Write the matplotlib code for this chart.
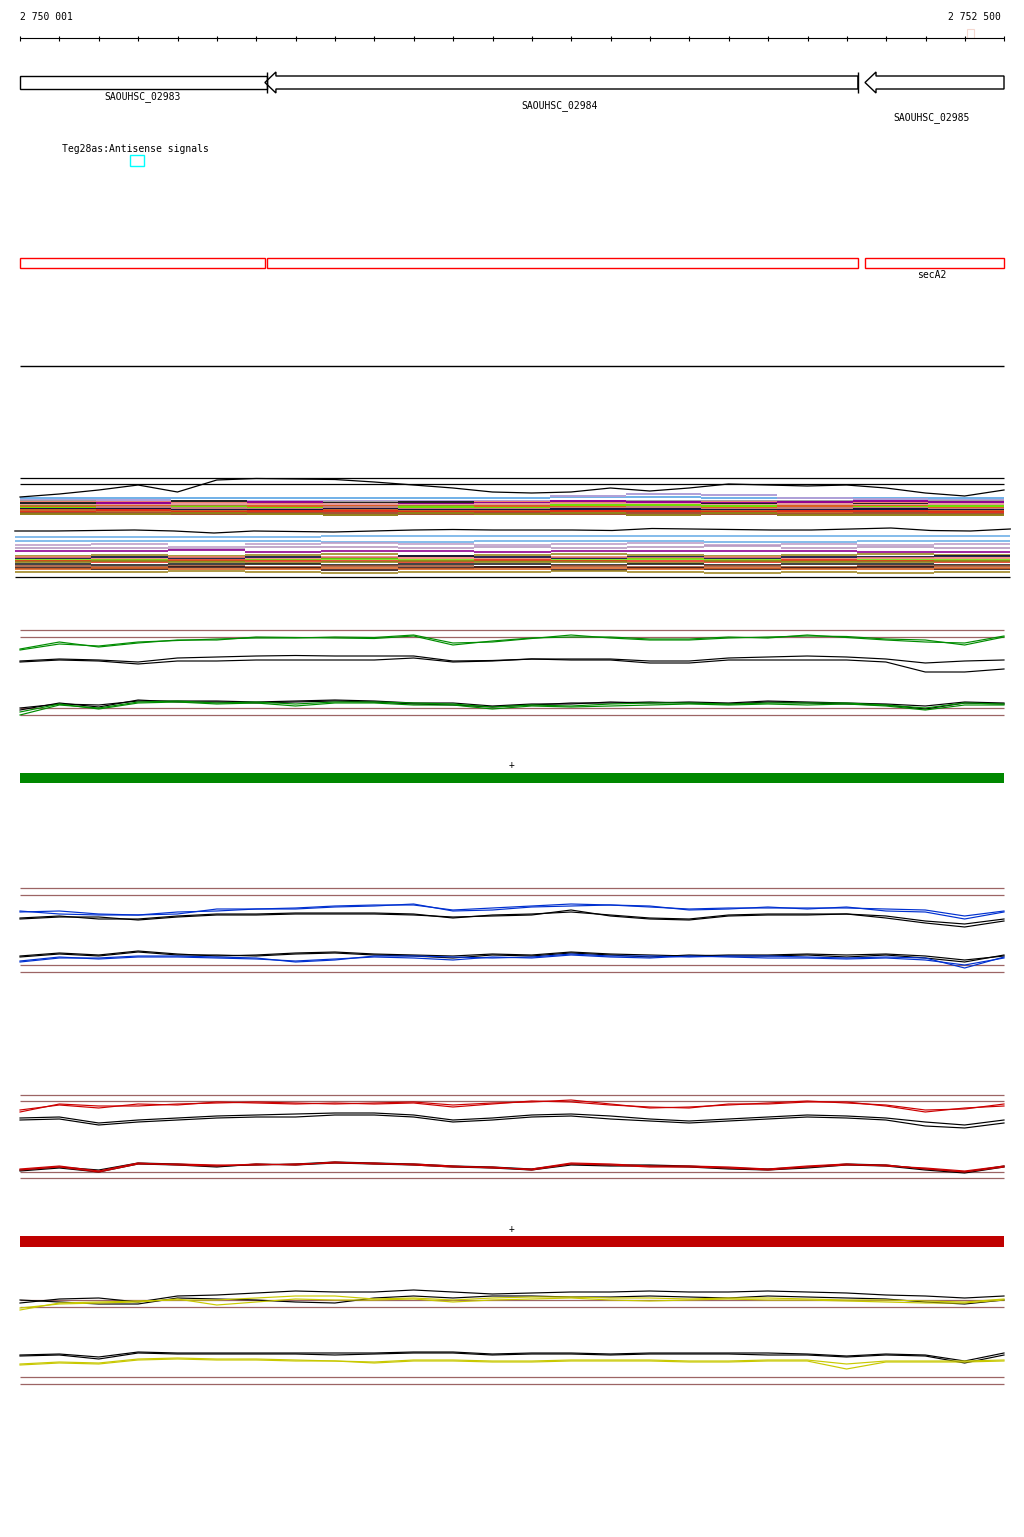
import numpy as np
import matplotlib.pyplot as plt
from matplotlib.patches import Polygon, Rectangle

plt.rcParams['font.family'] = ['DejaVu Sans Mono']

# view window (genome coordinates)
VIEW_START = 2750001
VIEW_END = 2752500
W, H = 1024, 1537
BP_PX = (VIEW_END - VIEW_START) / 984.0
XLIM = (VIEW_START - 20 * BP_PX, VIEW_END + 20 * BP_PX)

# genes: name, start, end, strand
genes = [("SAOUHSC_02983", 2749900, 2750628, "-"),
         ("SAOUHSC_02984", 2750623, 2752129, "-"),
         ("SAOUHSC_02985", 2752147, 2752700, "-")]
gene_label_pos = [2750313, 2751372, 2752317]
cds_boxes = [(2750001, 2750623), (2750628, 2752129), (2752147, 2752500)]
cds_label = "secA2"
antisense_name = "Teg28as:Antisense signals"
antisense_region = (2750280, 2750316)

# signal sample grid: every 100 bp
n_grid = 26

# --- multi-colour expression bands (levels per 200 bp bin) ---
band1_black = [17.6, 18.2, 19.0, 20.0, 18.6, 21.0, 21.3, 21.2, 21.1, 20.6, 20.0, 19.4, 18.6,
               18.4, 18.6, 19.4, 18.8, 19.4, 20.2, 20.0, 19.8, 20.0, 19.4, 18.4, 17.8, 19.0]
band1_lines = [
    ("#70b0e8", [17.4, 17.4, 17.4, 17.4, 17.4, 17.4, 17.4, 17.6, 17.6, 17.4, 17.4, 17.4, 17.4]),
    ("#b0a0d8", [17.0, 17.0, 16.8, 16.8, 16.8, 16.8, 16.8, 17.8, 18.2, 18.0, 17.4, 17.2, 17.0]),
    ("#a0a0a0", [16.8, 16.6, 16.6, 16.4, 16.6, 16.4, 16.6, 16.6, 16.8, 16.8, 16.8, 16.6, 16.8]),
    ("#f08070", [16.6, 16.6, 16.4, 16.2, 16.4, 16.6, 16.6, 16.4, 16.6, 16.6, 16.4, 16.6, 16.4]),
    ("#900090", [16.2, 16.4, 16.2, 16.6, 16.0, 16.2, 16.4, 16.8, 16.6, 16.4, 16.6, 16.8, 16.6]),
    ("#202020", [16.4, 16.0, 16.8, 15.8, 16.4, 16.6, 16.0, 16.2, 15.8, 16.2, 16.0, 16.2, 16.0]),
    ("#e8a0a0", [16.0, 16.0, 16.2, 16.0, 16.2, 16.0, 16.2, 16.2, 16.2, 16.0, 16.2, 16.0, 16.2]),
    ("#9a8a20", [15.8, 15.6, 15.8, 15.6, 15.4, 15.8, 15.6, 15.6, 15.4, 15.4, 15.6, 15.2, 15.4]),
    ("#e06020", [15.6, 15.8, 15.4, 15.8, 15.8, 15.4, 15.8, 15.8, 15.8, 15.6, 15.8, 15.8, 15.6]),
    ("#70e000", [15.4, 15.4, 15.6, 15.4, 15.6, 15.6, 15.4, 16.0, 16.0, 15.8, 15.4, 15.6, 15.8]),
    ("#c08080", [15.2, 15.6, 15.4, 15.2, 15.6, 15.2, 15.2, 15.4, 15.6, 15.2, 15.4, 15.4, 15.2]),
    ("#101040", [15.2, 15.2, 15.0, 15.0, 15.2, 15.0, 15.0, 15.2, 15.2, 15.0, 15.0, 15.2, 15.0]),
    ("#c86428", [15.0, 14.8, 14.8, 14.6, 15.0, 14.8, 14.8, 14.8, 14.6, 14.8, 14.6, 14.6, 14.8]),
    ("#e03018", [14.6, 15.0, 14.6, 14.8, 14.8, 14.6, 14.6, 14.8, 14.8, 14.6, 14.8, 14.8, 14.6]),
    ("#a05030", [14.4, 14.4, 14.2, 14.4, 14.4, 14.2, 14.4, 14.2, 14.4, 14.2, 14.2, 14.4, 14.2]),
    ("#908018", [14.2, 14.2, 14.4, 14.2, 14.0, 14.4, 14.2, 14.4, 14.0, 14.4, 14.0, 14.0, 14.0]),
]
band1_flat = [21.4, 20.2]

band2_black = [10.8, 10.8, 10.9, 11.0, 10.8, 10.4, 10.8, 10.7, 10.6, 10.8, 11.0, 11.1, 11.0,
               11.0, 11.0, 10.9, 11.3, 11.2, 11.1, 11.0, 11.0, 11.2, 11.4, 10.9, 10.8, 11.2]
band2_lines = [
    ("#70b0e8", [9.6, 9.6, 9.6, 9.6, 9.8, 9.8, 9.8, 9.8, 9.8, 9.8, 9.8, 9.8, 9.8]),
    ("#70b0e8", [8.8, 8.8, 8.8, 8.8, 8.6, 8.6, 8.8, 8.8, 8.8, 8.6, 8.6, 8.8, 8.8]),
    ("#c0a0c8", [8.0, 8.2, 7.6, 8.2, 8.4, 8.2, 8.0, 8.2, 8.4, 8.0, 8.2, 8.0, 8.2]),
    ("#b898c0", [7.4, 7.4, 7.2, 7.6, 7.6, 7.4, 7.6, 7.4, 7.6, 7.8, 7.4, 7.6, 7.4]),
    ("#900090", [6.8, 6.8, 7.0, 6.6, 6.8, 6.8, 6.6, 6.8, 6.8, 6.8, 6.8, 6.6, 6.6]),
    ("#9a8a20", [5.8, 6.0, 5.8, 6.0, 6.2, 5.8, 6.0, 6.2, 6.0, 5.8, 6.0, 6.2, 6.0]),
    ("#000030", [5.4, 5.6, 5.4, 5.6, 5.4, 5.8, 5.6, 5.4, 5.6, 5.4, 5.6, 5.6, 5.8]),
    ("#f08070", [5.6, 5.2, 5.6, 5.2, 5.6, 5.4, 5.2, 5.6, 5.4, 5.6, 5.2, 5.4, 5.4]),
    ("#70e000", [5.0, 5.0, 4.8, 5.0, 5.2, 5.0, 4.8, 5.0, 5.2, 5.0, 4.8, 5.0, 5.0]),
    ("#e03018", [4.8, 4.6, 5.0, 4.8, 4.8, 4.6, 5.0, 4.8, 4.8, 4.6, 5.0, 4.8, 4.6]),
    ("#908018", [4.6, 4.8, 4.6, 4.4, 4.6, 4.8, 4.6, 4.6, 4.4, 4.8, 4.6, 4.6, 4.8]),
    ("#202020", [4.2, 4.0, 4.2, 4.2, 4.0, 4.2, 4.2, 4.0, 4.2, 4.0, 4.2, 4.2, 4.0]),
    ("#a05030", [3.8, 3.6, 3.8, 3.6, 3.8, 3.8, 3.6, 3.8, 3.6, 3.8, 3.6, 3.8, 3.8]),
    ("#301010", [3.4, 3.2, 3.6, 3.4, 3.0, 3.4, 3.6, 3.0, 3.4, 3.2, 3.4, 3.6, 3.2]),
    ("#d86020", [3.2, 3.4, 3.2, 3.2, 3.4, 3.2, 3.2, 3.4, 3.2, 3.4, 3.2, 3.2, 3.4]),
    ("#a08828", [2.6, 2.6, 2.8, 2.6, 2.4, 2.6, 2.6, 2.8, 2.6, 2.4, 2.6, 2.4, 2.6]),
]
band2_flat = [1.6]
band2_span = (2749988, 2752516)

# --- strand-specific tiling tracks ---
green_thr = [18.0, 16.6, 2.4, 1.0]
green_up = [[14.0, 15.2, 14.8, 15.6, 15.9, 16.2, 16.4, 16.4, 16.6, 16.5, 17.0, 15.4, 15.6,
             16.3, 17.0, 16.4, 16.0, 16.0, 16.4, 16.6, 16.8, 16.7, 16.2, 16.0, 15.0, 16.6],
            [14.2, 15.6, 14.6, 15.4, 16.0, 16.0, 16.6, 16.5, 16.4, 16.3, 16.8, 15.0, 15.8,
             16.4, 16.6, 16.6, 16.2, 16.2, 16.6, 16.4, 17.0, 16.5, 16.0, 15.6, 15.4, 16.8]]
green_up_k = [[11.8, 12.2, 12.0, 11.6, 12.4, 12.6, 12.8, 12.9, 12.8, 12.8, 12.8, 11.8, 11.9,
               12.2, 12.2, 12.2, 11.8, 11.8, 12.4, 12.6, 12.8, 12.6, 12.2, 11.4, 11.8, 12.0],
              [11.6, 12.0, 11.8, 11.2, 11.8, 11.8, 12.0, 12.0, 12.0, 12.0, 12.4, 11.6, 11.8,
               12.2, 12.0, 12.0, 11.4, 11.4, 12.0, 12.0, 12.0, 12.0, 11.6, 9.6, 9.6, 10.2]]
green_lo_k = [[2.4, 3.2, 3.0, 3.8, 3.8, 3.8, 3.6, 3.8, 4.0, 3.8, 3.4, 3.4, 2.8,
               3.2, 3.2, 3.6, 3.4, 3.6, 3.4, 3.8, 3.6, 3.4, 3.2, 2.8, 3.6, 3.4],
              [2.0, 3.4, 2.6, 4.0, 3.6, 3.6, 3.4, 3.6, 3.8, 3.6, 3.2, 3.0, 2.6,
               3.0, 3.4, 3.4, 3.6, 3.4, 3.2, 3.6, 3.4, 3.2, 3.0, 2.2, 3.4, 3.2]]
green_lo = [[1.0, 3.0, 2.4, 3.6, 3.8, 3.4, 3.6, 3.2, 3.6, 3.6, 3.4, 3.2, 2.6,
             3.0, 2.8, 3.2, 3.4, 3.4, 3.2, 3.4, 3.4, 3.4, 3.0, 2.4, 3.4, 3.2],
            [1.6, 3.2, 2.2, 3.4, 3.6, 3.2, 3.4, 2.8, 3.4, 3.4, 3.0, 3.0, 2.2,
             2.8, 2.6, 2.8, 3.0, 3.2, 3.0, 3.2, 3.0, 3.2, 2.8, 2.0, 3.0, 3.0]]

blue_thr = [18.4, 17.0, 3.0, 1.6]
blue_up = [[13.6, 13.8, 13.2, 13.0, 13.2, 14.2, 14.2, 14.4, 14.8, 15.0, 15.0, 14.0, 14.4,
            14.8, 15.2, 15.0, 14.6, 14.2, 14.4, 14.4, 14.4, 14.4, 14.2, 14.0, 12.8, 13.8],
           [13.8, 13.2, 13.0, 13.0, 13.6, 13.8, 14.2, 14.2, 14.6, 14.8, 15.2, 13.8, 14.0,
            14.6, 14.8, 15.0, 14.8, 14.0, 14.2, 14.6, 14.2, 14.6, 13.8, 13.6, 12.2, 13.6]]
blue_up_k = [[12.4, 12.8, 12.2, 12.2, 12.8, 13.2, 13.2, 13.4, 13.4, 13.4, 13.2, 12.4, 13.0,
              13.2, 13.6, 13.0, 12.4, 12.2, 13.0, 13.2, 13.2, 13.2, 12.8, 11.8, 11.2, 12.2],
             [12.2, 12.6, 12.6, 12.0, 12.6, 13.0, 13.0, 13.2, 13.2, 13.2, 13.0, 12.6, 12.8,
              13.0, 14.0, 12.8, 12.2, 12.0, 12.8, 13.0, 13.0, 13.2, 12.4, 11.4, 10.6, 11.8]]
blue_lo_k = [[4.8, 5.4, 5.0, 5.8, 5.2, 4.8, 5.0, 5.4, 5.6, 5.2, 5.0, 4.8, 5.2,
              5.0, 5.6, 5.2, 5.0, 4.8, 5.0, 5.0, 5.2, 5.0, 5.2, 4.8, 4.0, 4.8],
             [4.6, 5.2, 4.8, 5.6, 5.0, 5.0, 4.8, 5.2, 5.4, 5.0, 4.8, 4.4, 5.0,
              4.8, 5.4, 5.0, 4.6, 5.0, 4.8, 4.8, 5.0, 4.6, 5.0, 4.4, 3.6, 5.0]]
blue_lo = [[3.6, 4.4, 4.4, 4.8, 4.8, 4.6, 4.4, 3.6, 4.0, 4.8, 4.8, 4.6, 4.4,
            4.6, 5.2, 4.8, 4.8, 4.6, 4.8, 4.8, 4.6, 4.4, 4.6, 4.4, 2.4, 4.6],
           [3.8, 4.6, 4.2, 4.6, 4.6, 4.4, 4.2, 3.8, 4.2, 4.6, 4.4, 4.0, 4.6,
            4.4, 5.0, 4.6, 4.4, 4.8, 4.6, 4.4, 4.4, 4.2, 4.4, 4.0, 3.0, 4.4]]

red_thr = [18.0, 16.8, 2.6, 1.4]
red_up = [[14.6, 16.2, 15.8, 15.8, 16.2, 16.4, 16.6, 16.4, 16.2, 16.4, 16.6, 16.0, 16.4,
           16.6, 17.0, 16.2, 15.4, 15.6, 16.0, 16.4, 16.8, 16.4, 16.0, 15.0, 15.2, 16.2],
          [15.0, 16.0, 15.4, 16.2, 16.0, 16.6, 16.4, 16.2, 16.4, 16.2, 16.4, 15.6, 16.2,
           16.8, 16.6, 16.0, 15.6, 15.4, 16.2, 16.2, 16.6, 16.6, 15.8, 14.6, 15.4, 15.8]]
red_up_k = [[13.4, 13.6, 12.4, 13.0, 13.4, 13.8, 14.0, 14.2, 14.4, 14.4, 14.0, 13.0, 13.4,
             14.0, 14.2, 13.8, 13.2, 12.8, 13.2, 13.6, 14.0, 13.8, 13.4, 12.6, 12.0, 13.0],
            [13.0, 13.2, 12.0, 12.6, 13.0, 13.4, 13.6, 13.6, 14.0, 14.0, 13.6, 12.6, 13.0,
             13.6, 13.8, 13.2, 12.8, 12.4, 12.8, 13.2, 13.6, 13.4, 13.0, 11.8, 11.4, 12.4]]
red_lo_k = [[3.0, 3.6, 3.0, 4.4, 4.2, 3.8, 4.0, 4.2, 4.6, 4.4, 4.2, 3.8, 3.6,
             3.2, 4.2, 4.0, 4.0, 3.8, 3.4, 3.2, 3.6, 4.2, 4.0, 3.2, 2.6, 3.8],
            [2.8, 3.4, 2.6, 4.2, 4.0, 3.6, 4.2, 4.0, 4.4, 4.2, 4.0, 3.6, 3.4,
             3.0, 4.0, 3.8, 3.8, 3.6, 3.2, 3.0, 3.4, 4.0, 3.8, 3.0, 2.4, 3.6]]
red_lo = [[3.2, 3.8, 2.8, 4.4, 4.0, 3.8, 4.2, 4.0, 4.6, 4.2, 4.2, 3.8, 3.4,
           3.2, 4.4, 4.2, 3.8, 3.8, 3.6, 3.2, 3.8, 4.2, 3.8, 3.4, 2.8, 3.8],
          [3.0, 3.6, 2.6, 4.2, 4.2, 4.0, 4.0, 4.2, 4.4, 4.4, 4.0, 3.6, 3.6,
           3.0, 4.2, 4.0, 3.6, 3.6, 3.4, 3.0, 3.6, 4.0, 4.0, 3.2, 2.6, 3.6]]

yel_thr = [19.0, 17.6, 3.6, 2.2]
yel_up_k = [[18.4, 19.2, 19.4, 18.6, 19.8, 20.0, 20.4, 20.8, 20.6, 20.6, 21.0, 20.6, 20.2,
             20.4, 20.6, 20.6, 20.8, 20.6, 20.6, 20.8, 20.6, 20.4, 20.0, 19.8, 19.4, 19.8],
            [19.0, 18.6, 18.2, 18.2, 19.4, 19.2, 19.0, 18.6, 18.4, 19.4, 19.8, 19.4, 19.8,
             19.8, 19.6, 19.6, 19.8, 19.6, 19.4, 19.8, 19.6, 19.4, 19.2, 18.6, 18.2, 19.0]]
yel_up = [[17.0, 18.4, 18.6, 18.8, 19.0, 19.0, 19.4, 19.8, 19.8, 19.2, 19.4, 19.0, 19.4,
           19.6, 19.6, 19.4, 19.4, 19.2, 19.4, 19.4, 19.2, 19.0, 19.0, 18.8, 18.6, 19.2],
          [17.4, 18.2, 18.4, 18.6, 19.2, 18.0, 18.6, 19.2, 19.0, 19.0, 19.2, 18.6, 19.0,
           19.2, 19.4, 19.0, 18.8, 19.0, 19.2, 19.0, 19.0, 18.8, 18.6, 18.4, 18.4, 19.0]]
yel_lo_k = [[8.0, 8.2, 7.6, 8.6, 8.4, 8.4, 8.4, 8.4, 8.4, 8.4, 8.6, 8.6, 8.2,
             8.4, 8.4, 8.2, 8.4, 8.4, 8.4, 8.4, 8.2, 7.8, 8.2, 8.0, 6.8, 8.4],
            [7.8, 8.0, 7.2, 8.4, 8.2, 8.2, 8.2, 8.2, 8.0, 8.2, 8.4, 8.4, 8.0,
             8.2, 8.2, 8.0, 8.2, 8.2, 8.2, 8.0, 8.0, 7.6, 8.0, 7.8, 6.4, 8.0]]
yel_lo = [[6.2, 6.6, 6.4, 7.2, 7.4, 7.2, 7.2, 7.0, 6.8, 6.6, 7.0, 7.0, 6.8,
           6.8, 7.0, 7.0, 7.0, 6.8, 6.8, 7.0, 7.0, 6.2, 6.8, 6.8, 6.8, 7.0],
          [6.0, 6.4, 6.2, 7.0, 7.2, 7.0, 7.0, 6.8, 6.8, 6.4, 6.8, 6.8, 6.6,
           6.6, 6.8, 6.8, 6.8, 6.6, 6.6, 6.8, 6.8, 5.2, 6.6, 6.6, 6.6, 6.8]]

BROWN = "#9c6464"

fig = plt.figure(figsize=(W / 100, H / 100), dpi=100)
fig.patch.set_facecolor("white")

# layout axes: genome x, y in figure rows
lay = fig.add_axes([0, 0, 1, 1])
lay.set_xlim(XLIM)
lay.set_ylim(H, 0)
lay.axis("off")


def track_axes(top, bottom, ylim):
    ax = fig.add_axes([0, 1 - bottom / H, 1, (bottom - top) / H])
    ax.set_xlim(XLIM)
    ax.set_ylim(ylim)
    ax.axis("off")
    ax.patch.set_alpha(0)
    return ax


# ruler
lay.text(VIEW_START, 22, "2 750 001", fontsize=7, va="bottom", ha="left")
lay.text(VIEW_END - 3 * BP_PX, 22, "2 752 500", fontsize=7, va="bottom", ha="right")
lay.hlines(38, VIEW_START, VIEW_END, color="black", lw=0.8)
ticks = np.arange(VIEW_START, VIEW_END + 2, 100)
lay.vlines(ticks, 35.5, 40.5, color="black", lw=0.8)
lay.add_patch(Rectangle((2752406, 29), 18, 9, fill=False, ec="#f4d8d0", lw=0.8))

# genes
head = 11 * BP_PX
for name, s, e, strand in genes:
    s0, e0 = max(s, VIEW_START), min(e, VIEW_END)
    if s < VIEW_START:
        lay.add_patch(Rectangle((s0, 76), e0 - s0, 13, fill=False, ec="black", lw=1))
        lay.vlines(e0, 72, 93, color="black", lw=1)
    else:
        pts = [(s0, 82.5), (s0 + head, 72), (s0 + head, 76), (e0, 76),
               (e0, 89), (s0 + head, 89), (s0 + head, 93)]
        lay.add_patch(Polygon(pts, closed=True, fill=False, ec="black", lw=1))
        if e < VIEW_END:
            lay.vlines(e0, 72, 93, color="black", lw=1)
lay.text(gene_label_pos[0], 97, genes[0][0], fontsize=7, ha="center", va="center")
lay.text(gene_label_pos[1], 106, genes[1][0], fontsize=7, ha="center", va="center")
lay.text(gene_label_pos[2], 118, genes[2][0], fontsize=7, ha="center", va="center")

# antisense annotation
lay.text(VIEW_START + 42 * BP_PX, 149, antisense_name, fontsize=7, ha="left", va="center")
lay.add_patch(Rectangle((antisense_region[0], 155), antisense_region[1] - antisense_region[0], 11,
                        fill=False, ec="cyan", lw=1))

# CDS boxes
for s, e in cds_boxes:
    lay.add_patch(Rectangle((s, 258), e - s, 10, fill=False, ec="red", lw=1))
lay.text(gene_label_pos[2], 275, cds_label, fontsize=7, ha="center", va="center")

lay.hlines(366, VIEW_START, VIEW_END, color="black", lw=1)

# multi-colour bands: horizontal segments per bin, no connectors
mb = track_axes(470, 585, (0, 23))
grid = np.linspace(VIEW_START, VIEW_END, n_grid)
for v in band1_flat:
    mb.hlines(v, VIEW_START, VIEW_END, color="black", lw=0.9)
edges1 = np.linspace(VIEW_START, VIEW_END, 14)
for col, lv in band1_lines:
    mb.hlines(lv, edges1[:-1], edges1[1:], color=col, lw=1.4)
mb.plot(grid, band1_black, color="black", lw=0.9)

grid2 = np.linspace(band2_span[0], band2_span[1], n_grid)
edges2 = np.linspace(band2_span[0], band2_span[1], 14)
for col, lv in band2_lines:
    mb.hlines(lv, edges2[:-1], edges2[1:], color=col, lw=1.2)
mb.plot(grid2, band2_black, color="black", lw=0.9)
for v in band2_flat:
    mb.hlines(v, band2_span[0], band2_span[1], color="black", lw=0.9)


def tiling(top, bottom, ylim, thr, col, up, up_k, lo_k, lo):
    ax = track_axes(top, bottom, ylim)
    for v in thr:
        ax.hlines(v, VIEW_START, VIEW_END, color=BROWN, lw=0.9)
    for ys in up_k + lo_k:
        ax.plot(grid, ys, color="black", lw=0.85)
    for ys in up + lo:
        ax.plot(grid, ys, color=col, lw=0.85)
    return ax


tiling(620, 720, (0, 20), green_thr, "#008c00", green_up, green_up_k, green_lo_k, green_lo)

lay.text((VIEW_START + VIEW_END) / 2, 765, "+", fontsize=7, ha="center", va="center")
lay.add_patch(Rectangle((VIEW_START, 773), VIEW_END - VIEW_START, 10, color="#008800", lw=0))

tiling(880, 980, (0, 20), blue_thr, "#0030d0", blue_up, blue_up_k, blue_lo_k, blue_lo)
tiling(1085, 1185, (0, 20), red_thr, "#cc0000", red_up, red_up_k, red_lo_k, red_lo)

lay.text((VIEW_START + VIEW_END) / 2, 1229, "+", fontsize=7, ha="center", va="center")
lay.add_patch(Rectangle((VIEW_START, 1236), VIEW_END - VIEW_START, 11, color="#c00000", lw=0))

tiling(1275, 1395, (0, 24), yel_thr, "#c8c800", yel_up, yel_up_k, yel_lo_k, yel_lo)

fig.savefig("out.png", dpi=100, facecolor="white")
